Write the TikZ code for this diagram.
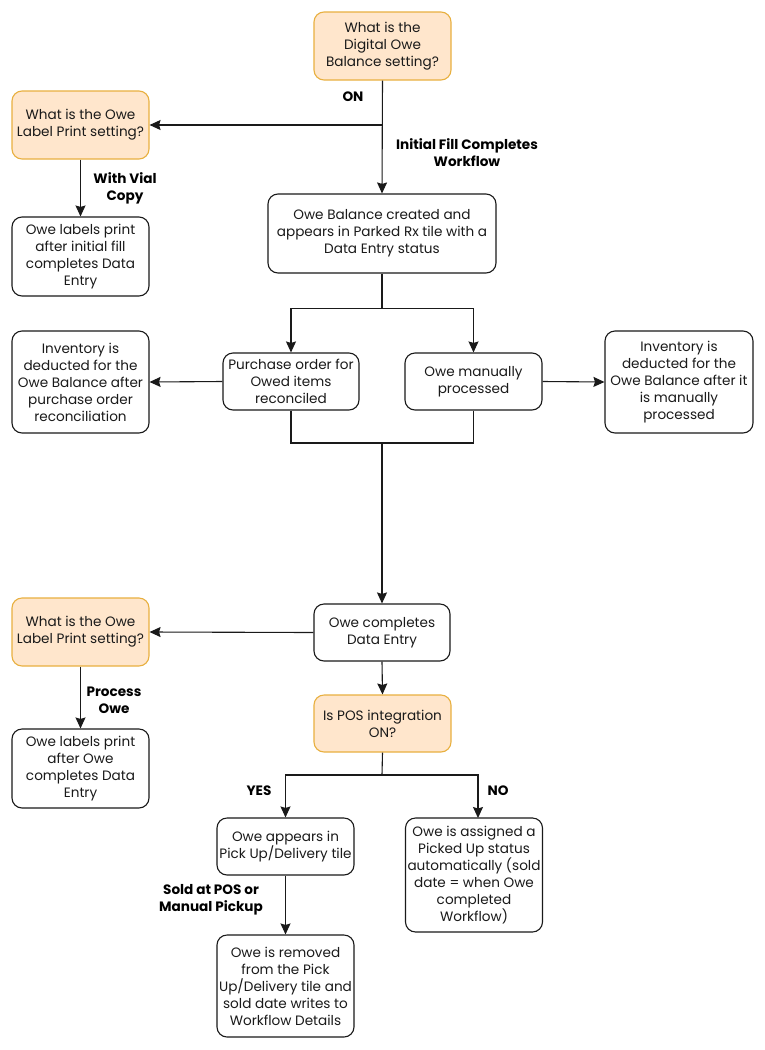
\documentclass[tikz,border=0pt]{standalone}
\usepackage{fontspec}
\setmainfont{Poppins}
\usetikzlibrary{arrows.meta,calc}
\definecolor{ofill}{HTML}{FFE6CC}
\definecolor{odraw}{HTML}{E8B040}
\definecolor{txt}{HTML}{1A1A1A}
\newcommand\fs{\fontsize{13.6}{17}\selectfont}
\newcommand\fb{\fontsize{13.6}{17}\selectfont\bfseries}
\begin{document}
\begin{tikzpicture}[x=1pt,y=-1pt,
  box/.style={draw=txt, fill=white, rounded corners=10pt, line width=1.1pt, align=center, inner sep=0pt, font=\fs, text=txt},
  obox/.style={box, draw=odraw, fill=ofill},
  lbl/.style={align=center, font=\fb, text=black, inner sep=0pt},
  arr/.style={-{Stealth[length=11pt,width=10pt,inset=1.5pt]}, line width=1.1pt, draw=txt},
  ln/.style={line width=1.1pt, draw=txt}]
\useasboundingbox[fill=white] (0,0) rectangle (765,1050);

\node[obox, minimum width=137, minimum height=68] (q1) at (382.5,46) {What is the\\Digital Owe\\Balance setting?};
\node[obox, minimum width=137, minimum height=68] (q2) at (80.5,125) {What is the Owe\\Label Print setting?};
\node[box, minimum width=137, minimum height=79] (lp1) at (80.5,256.5) {Owe labels print\\after initial fill\\completes Data\\Entry};
\node[box, minimum width=228, minimum height=79] (ob) at (382,233.5) {Owe Balance created and\\appears in Parked Rx tile with a\\Data Entry status};
\node[box, minimum width=137, minimum height=102] (inv1) at (80.5,382) {Inventory is\\deducted for the\\Owe Balance after\\purchase order\\reconciliation};
\node[box, minimum width=136, minimum height=57] (po) at (291,381.5) {Purchase order for\\Owed items\\reconciled};
\node[box, minimum width=137, minimum height=57] (mp) at (473.5,381.5) {Owe manually\\processed};
\node[box, minimum width=148, minimum height=102] (inv2) at (679,382) {Inventory is\\deducted for the\\Owe Balance after it\\is manually\\processed};
\node[box, minimum width=136, minimum height=57] (ocd) at (382,632.5) {Owe completes\\Data Entry};
\node[obox, minimum width=137, minimum height=68] (q3) at (80.5,632) {What is the Owe\\Label Print setting?};
\node[box, minimum width=137, minimum height=79] (lp2) at (80.5,768.5) {Owe labels print\\after Owe\\completes Data\\Entry};
\node[obox, minimum width=137, minimum height=57] (pos) at (382.5,723.5) {Is POS integration\\ON?};
\node[box, minimum width=137, minimum height=57] (pu) at (285.5,846.5) {Owe appears in\\Pick Up/Delivery tile};
\node[box, minimum width=137, minimum height=114] (na) at (474,875) {Owe is assigned a\\Picked Up status\\automatically (sold\\date = when Owe\\completed\\Workflow)};
\node[box, minimum width=137, minimum height=102] (rm) at (285.5,986) {Owe is removed\\from the Pick\\Up/Delivery tile and\\sold date writes to\\Workflow Details};

% connectors
\coordinate (c1) at (q1.south |- q2.east);
\draw[arr] (q1.south) -- (ob.north);
\draw[arr] (c1) -- (q2.east);
\draw[arr] (q2.south) -- (lp1.north);

\coordinate (s1) at ($(ob.south)+(0,35)$);
\draw[ln] (ob.south) -- (s1);
\draw[arr] (s1) -| (po.north);
\draw[arr] (s1) -| (mp.north);
\draw[arr] (po.west) -- (inv1.east);
\draw[arr] (mp.east) -- (inv2.west);

\coordinate (m1) at (382,443);
\draw[ln] (po.south) |- (m1);
\draw[ln] (mp.south) |- (m1);
\draw[arr] (m1) -- (ocd.north);

\draw[arr] (ocd.west) -- (q3.east);
\draw[arr] (q3.south) -- (lp2.north);
\draw[arr] (ocd.south) -- (pos.north);

\coordinate (s2) at (382,775);
\coordinate (nat) at (478,818);
\draw[ln] (pos.south) -- (s2);
\draw[arr] (s2) -| (pu.north);
\draw[arr] (s2) -| (nat);
\draw[arr] (pu.south) -- (rm.north);

% labels
\node[lbl] (lon) at (353,97) {ON};
\node[lbl] (lif) at (467,153) {Initial Fill Completes\\Workflow};
\node[lbl] (lwv) at (125,188) {With Vial\\Copy};
\node[lbl] (lpo) at (114,700) {Process\\Owe};
\node[lbl] (lyes) at (259,791) {YES};
\node[lbl] (lno) at (498,791) {NO};
\node[lbl] (lsold) at (211,900) {Sold at POS or\\Manual Pickup};
\end{tikzpicture}
\end{document}
